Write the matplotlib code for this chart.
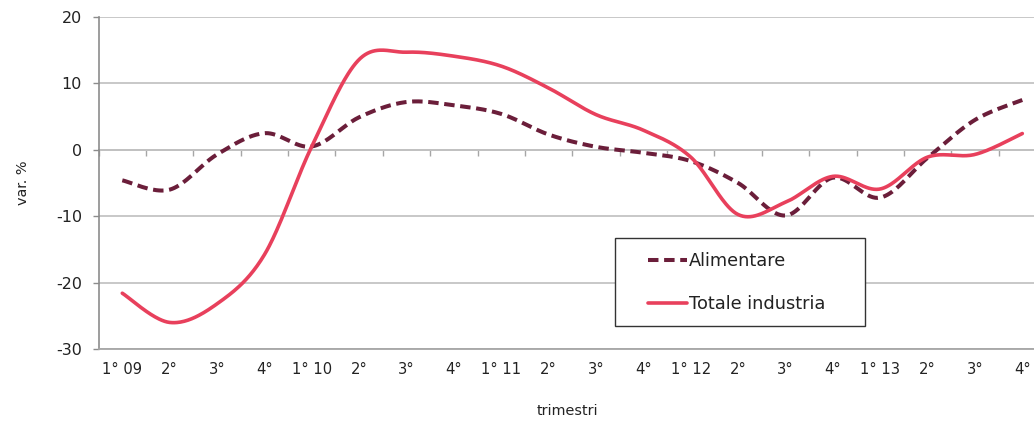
import numpy as np
import matplotlib
matplotlib.use("Agg")
import matplotlib.pyplot as plt
from matplotlib.patches import Rectangle

# ---- data ----
tick_labels = ["1° 09", "2°", "3°", "4°", "1° 10", "2°", "3°", "4°",
               "1° 11", "2°", "3°", "4°", "1° 12", "2°", "3°", "4°",
               "1° 13", "2°", "3°", "4°"]
alimentare = [-4.6, -6.0, -0.7, 2.5, 0.5, 4.9, 7.2, 6.7, 5.4, 2.3,
              0.45, -0.45, -1.7, -5.0, -9.9, -4.2, -7.2, -1.2, 4.5, 7.5]
totale = [-21.6, -26.0, -23.2, -15.8, 0.5, 13.6, 14.7, 14.1, 12.6, 9.3,
          5.3, 2.95, -1.1, -9.75, -7.9, -4.0, -5.9, -1.1, -0.7, 2.45]
series_names = ["Alimentare", "Totale industria"]
x_title = "trimestri"
y_title = "var. %"

col_alim = "#6B1E3A"
col_tot = "#E8405C"


def smooth(xs, ys, n=40):
    """Excel-like smoothed line: cubic Bezier through every point."""
    xs = np.asarray(xs, float)
    ys = np.asarray(ys, float)
    pts = np.column_stack([xs, ys])
    out = [pts[0]]
    m = len(pts)
    t = np.linspace(0, 1, n)[1:, None]
    for i in range(m - 1):
        p0 = pts[i]
        p3 = pts[i + 1]
        pm = pts[i - 1] if i > 0 else pts[i]
        pp = pts[i + 2] if i + 2 < m else pts[i + 1]
        c1 = p0 + (p3 - pm) / 6.0
        c2 = p3 - (pp - p0) / 6.0
        seg = ((1 - t) ** 3) * p0 + 3 * ((1 - t) ** 2) * t * c1 \
            + 3 * (1 - t) * t ** 2 * c2 + t ** 3 * p3
        out.extend(seg)
    out = np.array(out)
    return out[:, 0], out[:, 1]


plt.rcParams['font.family'] = ['DejaVu Sans']
plt.rcParams['axes.unicode_minus'] = False

W, H = 1034, 424
fig = plt.figure(figsize=(W / 100, H / 100), dpi=100)
left_px, right_px, top_px, bot_px = 98.6, 1046.0, 17.0, 349.0
ax = fig.add_axes([left_px / W, (H - bot_px) / H,
                   (right_px - left_px) / W, (bot_px - top_px) / H])

x = np.arange(len(tick_labels))
xa, ya = smooth(x, alimentare)
xt, yt = smooth(x, totale)

ax.set_xlim(-0.5, len(tick_labels) - 0.5)
ax.set_ylim(-30, 20)

# gridlines
ax.set_yticks([-30, -20, -10, 0, 10, 20])
ax.yaxis.grid(True, color="#C4C4C4", linewidth=1.3)
ax.set_axisbelow(True)

ax.plot(xa, ya, color=col_alim, linewidth=2.9, dashes=(2.6, 1.4),
        label=series_names[0], zorder=3)
ax.plot(xt, yt, color=col_tot, linewidth=2.6, solid_capstyle='round',
        label=series_names[1], zorder=4)

# spines
for s in ["top", "right"]:
    ax.spines[s].set_visible(False)
ax.spines["left"].set_color("#8C8C8C")
ax.spines["left"].set_linewidth(1.2)
ax.spines["bottom"].set_color("#A6A6A6")
ax.spines["bottom"].set_linewidth(1.3)

ax.set_xticks(x)
ax.set_xticklabels(tick_labels)
ax.tick_params(axis="x", length=0, pad=9, labelsize=10.6, labelcolor="#222222")
ax.tick_params(axis="y", length=4, width=1, color="#8C8C8C", pad=8,
               labelsize=11.5, labelcolor="#222222")

# category axis crossing at zero with boundary tick marks
sec = ax.secondary_xaxis(0.6)
sec.set_alignment("bottom")
sec.set_xticks(np.arange(len(tick_labels) + 1) - 0.5)
sec.set_xticklabels([])
sec.tick_params(axis="x", direction="out", length=4, width=1, color="#A6A6A6")
sec.spines["bottom"].set_color("#A6A6A6")
sec.spines["bottom"].set_linewidth(1.3)
sec.spines["top"].set_visible(False)

ax.set_xlabel(x_title, fontsize=10.4, color="#222222")
ax.xaxis.set_label_coords((567 - left_px) / (right_px - left_px),
                          (bot_px - 404) / (bot_px - top_px))
ax.set_ylabel(y_title, fontsize=10.4, color="#222222")
ax.yaxis.set_label_coords((30 - left_px) / (right_px - left_px), 0.5)

# legend
leg = ax.legend(loc="center left",
                bbox_to_anchor=((648 - left_px) / (right_px - left_px),
                                (bot_px - 282.5) / (bot_px - top_px)),
                frameon=False, fontsize=12.8, handlelength=2.2,
                handletextpad=0.12, labelspacing=1.4, borderpad=0,
                borderaxespad=0)
for t in leg.get_texts():
    t.set_color("#222222")
box = Rectangle(((615 - left_px) / (right_px - left_px),
                 (bot_px - 326) / (bot_px - top_px)),
                (865 - 615) / (right_px - left_px),
                (326 - 238) / (bot_px - top_px),
                transform=ax.transAxes, facecolor="white",
                edgecolor="#333333", linewidth=1.0, zorder=5)
ax.add_patch(box)
leg.set_zorder(6)

fig.savefig("out.png", dpi=100)
